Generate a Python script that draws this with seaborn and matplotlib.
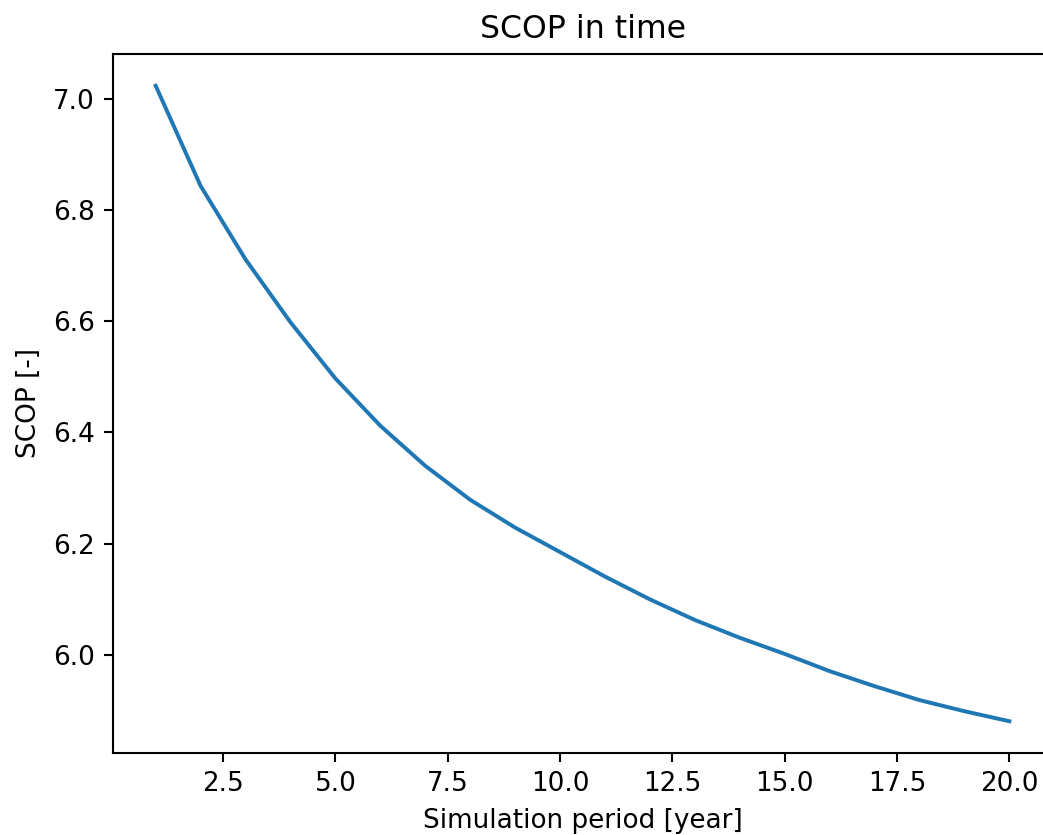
import matplotlib
matplotlib.use("Agg")
import matplotlib.pyplot as plt
import seaborn as sns

# -------------------------------
# data
# -------------------------------
years = list(range(1, 21))
scop = [7.023, 6.843, 6.711, 6.598, 6.497, 6.412, 6.340, 6.279, 6.229, 6.185,
        6.141, 6.100, 6.063, 6.031, 6.002, 5.971, 5.944, 5.919, 5.899, 5.881]

title = "SCOP in time"
xlabel = "Simulation period [year]"
ylabel = "SCOP [-]"

# -------------------------------
# plot
# -------------------------------
W, H, DPI = 1043, 835, 189
fig = plt.figure(figsize=(W / DPI, H / DPI), dpi=DPI)
ax = fig.add_axes([113 / W, (H - 753) / H, (1052 - 113) / W, (753 - 54) / H])

sns.lineplot(x=years, y=scop, ax=ax, color="#1f77b4", linewidth=1.5)

ax.set_title(title)
ax.set_xlabel(xlabel)
ax.set_ylabel(ylabel)

# the reference is cut off on the right, so its right spine is not visible
ax.spines["right"].set_visible(False)

fig.savefig("out.png", dpi=DPI)
